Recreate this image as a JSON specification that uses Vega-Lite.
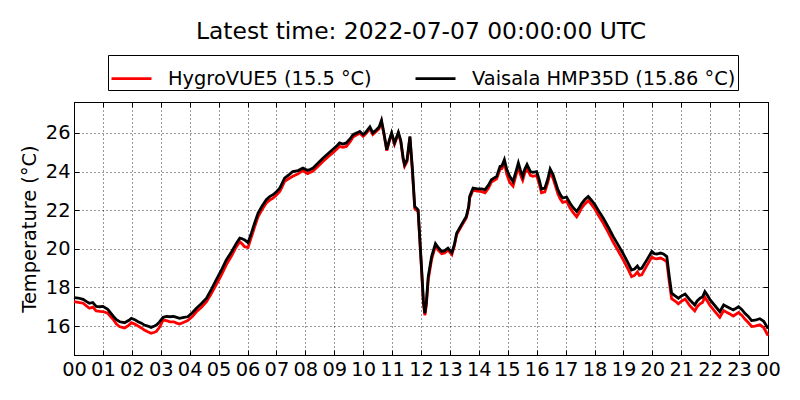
{
  "$schema": "https://vega.github.io/schema/vega-lite/v6.json",
  "autosize": "none",
  "width": 694,
  "height": 253,
  "padding": {"left": 74, "top": 102, "right": 32, "bottom": 45},
  "background": "white",
  "title": {
    "text": "Latest time: 2022-07-07 00:00:00 UTC",
    "anchor": "middle",
    "font": "DejaVu Sans",
    "fontSize": 23.4,
    "fontWeight": "normal",
    "color": "black",
    "offset": 10
  },
  "data": {
    "values": [
      {"t": "2022-07-06T00:00Z", "hygro": 17.26, "hmp": 17.47},
      {"t": "2022-07-06T00:09Z", "hygro": 17.22, "hmp": 17.45},
      {"t": "2022-07-06T00:19Z", "hygro": 17.18, "hmp": 17.38},
      {"t": "2022-07-06T00:27Z", "hygro": 17.02, "hmp": 17.25},
      {"t": "2022-07-06T00:32Z", "hygro": 16.92, "hmp": 17.18},
      {"t": "2022-07-06T00:39Z", "hygro": 16.98, "hmp": 17.22},
      {"t": "2022-07-06T00:46Z", "hygro": 16.78, "hmp": 17.02},
      {"t": "2022-07-06T00:54Z", "hygro": 16.76, "hmp": 17.00},
      {"t": "2022-07-06T01:00Z", "hygro": 16.75, "hmp": 17.02},
      {"t": "2022-07-06T01:10Z", "hygro": 16.66, "hmp": 16.86},
      {"t": "2022-07-06T01:21Z", "hygro": 16.35, "hmp": 16.52},
      {"t": "2022-07-06T01:28Z", "hygro": 16.10, "hmp": 16.33},
      {"t": "2022-07-06T01:35Z", "hygro": 15.96, "hmp": 16.22},
      {"t": "2022-07-06T01:45Z", "hygro": 15.90, "hmp": 16.17},
      {"t": "2022-07-06T01:54Z", "hygro": 16.05, "hmp": 16.30},
      {"t": "2022-07-06T01:59Z", "hygro": 16.17, "hmp": 16.40},
      {"t": "2022-07-06T02:06Z", "hygro": 16.10, "hmp": 16.33},
      {"t": "2022-07-06T02:13Z", "hygro": 16.00, "hmp": 16.22},
      {"t": "2022-07-06T02:20Z", "hygro": 15.90, "hmp": 16.15},
      {"t": "2022-07-06T02:26Z", "hygro": 15.79, "hmp": 16.05},
      {"t": "2022-07-06T02:33Z", "hygro": 15.70, "hmp": 16.00},
      {"t": "2022-07-06T02:40Z", "hygro": 15.62, "hmp": 15.93},
      {"t": "2022-07-06T02:47Z", "hygro": 15.68, "hmp": 16.00},
      {"t": "2022-07-06T02:51Z", "hygro": 15.72, "hmp": 16.05},
      {"t": "2022-07-06T02:57Z", "hygro": 15.92, "hmp": 16.20},
      {"t": "2022-07-06T03:05Z", "hygro": 16.31, "hmp": 16.45},
      {"t": "2022-07-06T03:12Z", "hygro": 16.28, "hmp": 16.50},
      {"t": "2022-07-06T03:19Z", "hygro": 16.22, "hmp": 16.48},
      {"t": "2022-07-06T03:27Z", "hygro": 16.22, "hmp": 16.50},
      {"t": "2022-07-06T03:33Z", "hygro": 16.15, "hmp": 16.45},
      {"t": "2022-07-06T03:39Z", "hygro": 16.10, "hmp": 16.40},
      {"t": "2022-07-06T03:48Z", "hygro": 16.20, "hmp": 16.45},
      {"t": "2022-07-06T03:56Z", "hygro": 16.28, "hmp": 16.48},
      {"t": "2022-07-06T04:06Z", "hygro": 16.50, "hmp": 16.70},
      {"t": "2022-07-06T04:14Z", "hygro": 16.74, "hmp": 16.92},
      {"t": "2022-07-06T04:24Z", "hygro": 16.96, "hmp": 17.15},
      {"t": "2022-07-06T04:35Z", "hygro": 17.26, "hmp": 17.44},
      {"t": "2022-07-06T04:45Z", "hygro": 17.68, "hmp": 17.90},
      {"t": "2022-07-06T04:55Z", "hygro": 18.13, "hmp": 18.39},
      {"t": "2022-07-06T05:06Z", "hygro": 18.65, "hmp": 18.90},
      {"t": "2022-07-06T05:16Z", "hygro": 19.17, "hmp": 19.42},
      {"t": "2022-07-06T05:27Z", "hygro": 19.64, "hmp": 19.85},
      {"t": "2022-07-06T05:37Z", "hygro": 20.11, "hmp": 20.29},
      {"t": "2022-07-06T05:44Z", "hygro": 20.37, "hmp": 20.55},
      {"t": "2022-07-06T05:49Z", "hygro": 20.25, "hmp": 20.52},
      {"t": "2022-07-06T05:54Z", "hygro": 20.11, "hmp": 20.46},
      {"t": "2022-07-06T06:01Z", "hygro": 20.06, "hmp": 20.32},
      {"t": "2022-07-06T06:08Z", "hygro": 20.60, "hmp": 20.81},
      {"t": "2022-07-06T06:15Z", "hygro": 21.15, "hmp": 21.35},
      {"t": "2022-07-06T06:22Z", "hygro": 21.67, "hmp": 21.85},
      {"t": "2022-07-06T06:30Z", "hygro": 22.02, "hmp": 22.20},
      {"t": "2022-07-06T06:39Z", "hygro": 22.37, "hmp": 22.54},
      {"t": "2022-07-06T06:46Z", "hygro": 22.52, "hmp": 22.70},
      {"t": "2022-07-06T06:53Z", "hygro": 22.62, "hmp": 22.80},
      {"t": "2022-07-06T07:00Z", "hygro": 22.78, "hmp": 22.95},
      {"t": "2022-07-06T07:07Z", "hygro": 22.97, "hmp": 23.14},
      {"t": "2022-07-06T07:12Z", "hygro": 23.22, "hmp": 23.40},
      {"t": "2022-07-06T07:17Z", "hygro": 23.49, "hmp": 23.66},
      {"t": "2022-07-06T07:27Z", "hygro": 23.65, "hmp": 23.85},
      {"t": "2022-07-06T07:34Z", "hygro": 23.75, "hmp": 24.00},
      {"t": "2022-07-06T07:45Z", "hygro": 23.88, "hmp": 24.05},
      {"t": "2022-07-06T07:55Z", "hygro": 24.06, "hmp": 24.18},
      {"t": "2022-07-06T08:01Z", "hygro": 23.95, "hmp": 24.10},
      {"t": "2022-07-06T08:05Z", "hygro": 23.89, "hmp": 24.06},
      {"t": "2022-07-06T08:11Z", "hygro": 23.97, "hmp": 24.12},
      {"t": "2022-07-06T08:16Z", "hygro": 24.02, "hmp": 24.18},
      {"t": "2022-07-06T08:27Z", "hygro": 24.28, "hmp": 24.45},
      {"t": "2022-07-06T08:37Z", "hygro": 24.53, "hmp": 24.70},
      {"t": "2022-07-06T08:48Z", "hygro": 24.78, "hmp": 24.95},
      {"t": "2022-07-06T08:58Z", "hygro": 24.99, "hmp": 25.17},
      {"t": "2022-07-06T09:06Z", "hygro": 25.18, "hmp": 25.35},
      {"t": "2022-07-06T09:11Z", "hygro": 25.30, "hmp": 25.48},
      {"t": "2022-07-06T09:18Z", "hygro": 25.25, "hmp": 25.42},
      {"t": "2022-07-06T09:25Z", "hygro": 25.30, "hmp": 25.48},
      {"t": "2022-07-06T09:33Z", "hygro": 25.55, "hmp": 25.70},
      {"t": "2022-07-06T09:39Z", "hygro": 25.79, "hmp": 25.91},
      {"t": "2022-07-06T09:47Z", "hygro": 25.90, "hmp": 26.00},
      {"t": "2022-07-06T09:53Z", "hygro": 25.98, "hmp": 26.08},
      {"t": "2022-07-06T10:00Z", "hygro": 25.82, "hmp": 25.91},
      {"t": "2022-07-06T10:06Z", "hygro": 25.96, "hmp": 26.05},
      {"t": "2022-07-06T10:14Z", "hygro": 26.22, "hmp": 26.31},
      {"t": "2022-07-06T10:20Z", "hygro": 25.92, "hmp": 26.00},
      {"t": "2022-07-06T10:27Z", "hygro": 26.07, "hmp": 26.15},
      {"t": "2022-07-06T10:33Z", "hygro": 26.22, "hmp": 26.30},
      {"t": "2022-07-06T10:38Z", "hygro": 26.58, "hmp": 26.65},
      {"t": "2022-07-06T10:43Z", "hygro": 25.94, "hmp": 26.00},
      {"t": "2022-07-06T10:49Z", "hygro": 25.08, "hmp": 25.13},
      {"t": "2022-07-06T10:54Z", "hygro": 25.55, "hmp": 25.60},
      {"t": "2022-07-06T10:59Z", "hygro": 25.94, "hmp": 26.00},
      {"t": "2022-07-06T11:05Z", "hygro": 25.42, "hmp": 25.48},
      {"t": "2022-07-06T11:13Z", "hygro": 25.97, "hmp": 26.03},
      {"t": "2022-07-06T11:18Z", "hygro": 25.55, "hmp": 25.60},
      {"t": "2022-07-06T11:23Z", "hygro": 24.62, "hmp": 24.70},
      {"t": "2022-07-06T11:26Z", "hygro": 24.28, "hmp": 24.36},
      {"t": "2022-07-06T11:31Z", "hygro": 24.52, "hmp": 24.60},
      {"t": "2022-07-06T11:37Z", "hygro": 25.76, "hmp": 25.82},
      {"t": "2022-07-06T11:42Z", "hygro": 24.05, "hmp": 24.20},
      {"t": "2022-07-06T11:47Z", "hygro": 22.08, "hmp": 22.19},
      {"t": "2022-07-06T11:54Z", "hygro": 21.92, "hmp": 22.02},
      {"t": "2022-07-06T12:01Z", "hygro": 18.95, "hmp": 19.08},
      {"t": "2022-07-06T12:05Z", "hygro": 17.15, "hmp": 17.30},
      {"t": "2022-07-06T12:08Z", "hygro": 16.55, "hmp": 16.66},
      {"t": "2022-07-06T12:11Z", "hygro": 17.05, "hmp": 17.20},
      {"t": "2022-07-06T12:15Z", "hygro": 18.40, "hmp": 18.56},
      {"t": "2022-07-06T12:22Z", "hygro": 19.45, "hmp": 19.60},
      {"t": "2022-07-06T12:30Z", "hygro": 20.15, "hmp": 20.26},
      {"t": "2022-07-06T12:36Z", "hygro": 19.92, "hmp": 20.05},
      {"t": "2022-07-06T12:43Z", "hygro": 19.74, "hmp": 19.86},
      {"t": "2022-07-06T12:49Z", "hygro": 19.78, "hmp": 19.90},
      {"t": "2022-07-06T12:56Z", "hygro": 19.93, "hmp": 20.03},
      {"t": "2022-07-06T13:04Z", "hygro": 19.70, "hmp": 19.80},
      {"t": "2022-07-06T13:09Z", "hygro": 20.12, "hmp": 20.20},
      {"t": "2022-07-06T13:14Z", "hygro": 20.74, "hmp": 20.81},
      {"t": "2022-07-06T13:24Z", "hygro": 21.18, "hmp": 21.25},
      {"t": "2022-07-06T13:34Z", "hygro": 21.60, "hmp": 21.67},
      {"t": "2022-07-06T13:39Z", "hygro": 22.12, "hmp": 22.20},
      {"t": "2022-07-06T13:41Z", "hygro": 22.62, "hmp": 22.71},
      {"t": "2022-07-06T13:48Z", "hygro": 23.04, "hmp": 23.14},
      {"t": "2022-07-06T13:57Z", "hygro": 22.98, "hmp": 23.10},
      {"t": "2022-07-06T14:06Z", "hygro": 22.96, "hmp": 23.10},
      {"t": "2022-07-06T14:13Z", "hygro": 22.90, "hmp": 23.06},
      {"t": "2022-07-06T14:20Z", "hygro": 23.15, "hmp": 23.30},
      {"t": "2022-07-06T14:26Z", "hygro": 23.45, "hmp": 23.58},
      {"t": "2022-07-06T14:37Z", "hygro": 23.62, "hmp": 23.75},
      {"t": "2022-07-06T14:44Z", "hygro": 24.12, "hmp": 24.27},
      {"t": "2022-07-06T14:48Z", "hygro": 24.15, "hmp": 24.30},
      {"t": "2022-07-06T14:53Z", "hygro": 24.45, "hmp": 24.62},
      {"t": "2022-07-06T14:58Z", "hygro": 23.85, "hmp": 24.10},
      {"t": "2022-07-06T15:04Z", "hygro": 23.45, "hmp": 23.75},
      {"t": "2022-07-06T15:11Z", "hygro": 23.25, "hmp": 23.49},
      {"t": "2022-07-06T15:17Z", "hygro": 23.80, "hmp": 24.00},
      {"t": "2022-07-06T15:22Z", "hygro": 24.25, "hmp": 24.45},
      {"t": "2022-07-06T15:26Z", "hygro": 23.85, "hmp": 24.10},
      {"t": "2022-07-06T15:31Z", "hygro": 23.55, "hmp": 23.75},
      {"t": "2022-07-06T15:35Z", "hygro": 23.90, "hmp": 24.10},
      {"t": "2022-07-06T15:40Z", "hygro": 24.15, "hmp": 24.36},
      {"t": "2022-07-06T15:47Z", "hygro": 23.80, "hmp": 24.00},
      {"t": "2022-07-06T15:52Z", "hygro": 23.75, "hmp": 23.96},
      {"t": "2022-07-06T16:00Z", "hygro": 23.80, "hmp": 24.00},
      {"t": "2022-07-06T16:05Z", "hygro": 23.38, "hmp": 23.60},
      {"t": "2022-07-06T16:10Z", "hygro": 22.90, "hmp": 23.09},
      {"t": "2022-07-06T16:17Z", "hygro": 22.95, "hmp": 23.14},
      {"t": "2022-07-06T16:23Z", "hygro": 23.42, "hmp": 23.60},
      {"t": "2022-07-06T16:28Z", "hygro": 23.95, "hmp": 24.13},
      {"t": "2022-07-06T16:34Z", "hygro": 23.65, "hmp": 23.84},
      {"t": "2022-07-06T16:39Z", "hygro": 23.25, "hmp": 23.45},
      {"t": "2022-07-06T16:44Z", "hygro": 22.85, "hmp": 23.06},
      {"t": "2022-07-06T16:49Z", "hygro": 22.58, "hmp": 22.80},
      {"t": "2022-07-06T16:54Z", "hygro": 22.40, "hmp": 22.63},
      {"t": "2022-07-06T17:02Z", "hygro": 22.45, "hmp": 22.68},
      {"t": "2022-07-06T17:09Z", "hygro": 22.12, "hmp": 22.37},
      {"t": "2022-07-06T17:15Z", "hygro": 21.90, "hmp": 22.15},
      {"t": "2022-07-06T17:23Z", "hygro": 21.65, "hmp": 21.93},
      {"t": "2022-07-06T17:29Z", "hygro": 21.90, "hmp": 22.15},
      {"t": "2022-07-06T17:33Z", "hygro": 22.10, "hmp": 22.33},
      {"t": "2022-07-06T17:40Z", "hygro": 22.32, "hmp": 22.55},
      {"t": "2022-07-06T17:47Z", "hygro": 22.50, "hmp": 22.71},
      {"t": "2022-07-06T17:54Z", "hygro": 22.28, "hmp": 22.50},
      {"t": "2022-07-06T18:01Z", "hygro": 22.05, "hmp": 22.28},
      {"t": "2022-07-06T18:09Z", "hygro": 21.70, "hmp": 21.95},
      {"t": "2022-07-06T18:18Z", "hygro": 21.33, "hmp": 21.59},
      {"t": "2022-07-06T18:29Z", "hygro": 20.82, "hmp": 21.10},
      {"t": "2022-07-06T18:39Z", "hygro": 20.33, "hmp": 20.63},
      {"t": "2022-07-06T18:49Z", "hygro": 19.90, "hmp": 20.20},
      {"t": "2022-07-06T18:59Z", "hygro": 19.45, "hmp": 19.77},
      {"t": "2022-07-06T19:09Z", "hygro": 18.98, "hmp": 19.30},
      {"t": "2022-07-06T19:17Z", "hygro": 18.56, "hmp": 18.90},
      {"t": "2022-07-06T19:23Z", "hygro": 18.62, "hmp": 18.95},
      {"t": "2022-07-06T19:29Z", "hygro": 18.80, "hmp": 19.11},
      {"t": "2022-07-06T19:33Z", "hygro": 18.62, "hmp": 18.95},
      {"t": "2022-07-06T19:38Z", "hygro": 18.65, "hmp": 18.99},
      {"t": "2022-07-06T19:48Z", "hygro": 19.10, "hmp": 19.40},
      {"t": "2022-07-06T19:59Z", "hygro": 19.58, "hmp": 19.86},
      {"t": "2022-07-06T20:04Z", "hygro": 19.50, "hmp": 19.75},
      {"t": "2022-07-06T20:09Z", "hygro": 19.48, "hmp": 19.73},
      {"t": "2022-07-06T20:17Z", "hygro": 19.52, "hmp": 19.78},
      {"t": "2022-07-06T20:23Z", "hygro": 19.45, "hmp": 19.73},
      {"t": "2022-07-06T20:30Z", "hygro": 19.32, "hmp": 19.60},
      {"t": "2022-07-06T20:35Z", "hygro": 18.30, "hmp": 18.60},
      {"t": "2022-07-06T20:40Z", "hygro": 17.42, "hmp": 17.70},
      {"t": "2022-07-06T20:48Z", "hygro": 17.28, "hmp": 17.55},
      {"t": "2022-07-06T20:54Z", "hygro": 17.15, "hmp": 17.44},
      {"t": "2022-07-06T21:00Z", "hygro": 17.28, "hmp": 17.55},
      {"t": "2022-07-06T21:08Z", "hygro": 17.40, "hmp": 17.66},
      {"t": "2022-07-06T21:18Z", "hygro": 17.05, "hmp": 17.35},
      {"t": "2022-07-06T21:28Z", "hygro": 16.78, "hmp": 17.09},
      {"t": "2022-07-06T21:33Z", "hygro": 17.00, "hmp": 17.30},
      {"t": "2022-07-06T21:39Z", "hygro": 17.15, "hmp": 17.44},
      {"t": "2022-07-06T21:44Z", "hygro": 17.22, "hmp": 17.50},
      {"t": "2022-07-06T21:49Z", "hygro": 17.50, "hmp": 17.78},
      {"t": "2022-07-06T21:54Z", "hygro": 17.30, "hmp": 17.60},
      {"t": "2022-07-06T22:00Z", "hygro": 17.05, "hmp": 17.35},
      {"t": "2022-07-06T22:10Z", "hygro": 16.75, "hmp": 17.05},
      {"t": "2022-07-06T22:20Z", "hygro": 16.45, "hmp": 16.74},
      {"t": "2022-07-06T22:28Z", "hygro": 16.80, "hmp": 17.09},
      {"t": "2022-07-06T22:35Z", "hygro": 16.70, "hmp": 17.00},
      {"t": "2022-07-06T22:41Z", "hygro": 16.62, "hmp": 16.92},
      {"t": "2022-07-06T22:48Z", "hygro": 16.52, "hmp": 16.83},
      {"t": "2022-07-06T22:59Z", "hygro": 16.70, "hmp": 17.00},
      {"t": "2022-07-06T23:06Z", "hygro": 16.55, "hmp": 16.85},
      {"t": "2022-07-06T23:12Z", "hygro": 16.36, "hmp": 16.66},
      {"t": "2022-07-06T23:19Z", "hygro": 16.18, "hmp": 16.50},
      {"t": "2022-07-06T23:26Z", "hygro": 15.98, "hmp": 16.28},
      {"t": "2022-07-06T23:33Z", "hygro": 16.00, "hmp": 16.30},
      {"t": "2022-07-06T23:43Z", "hygro": 16.06, "hmp": 16.38},
      {"t": "2022-07-06T23:51Z", "hygro": 15.92, "hmp": 16.25},
      {"t": "2022-07-06T23:58Z", "hygro": 15.60, "hmp": 15.96},
      {"t": "2022-07-07T00:00Z", "hygro": 15.50, "hmp": 15.86}
    ]
  },
  "transform": [
    {"fold": ["hygro", "hmp"], "as": ["sensor", "temp"]}
  ],
  "encoding": {
    "x": {
      "field": "t",
      "type": "temporal",
      "scale": {"type": "utc", "nice": false}
    },
    "y": {
      "field": "temp",
      "type": "quantitative",
      "scale": {"domain": [14.5, 27.6], "nice": false, "zero": false}
    },
    "color": {
      "field": "sensor",
      "type": "nominal",
      "scale": {"domain": ["hygro", "hmp"], "range": ["#ff0000", "#000000"]},
      "legend": {
        "orient": "none",
        "legendX": 34,
        "legendY": -47,
        "direction": "horizontal",
        "title": null,
        "symbolType": "stroke",
        "symbolSize": 1600,
        "symbolStrokeWidth": 2.8,
        "labelFont": "DejaVu Sans",
        "labelFontSize": 19.4,
        "labelColor": "black",
        "labelLimit": 400,
        "labelOffset": 15,
        "columnPadding": 37,
        "strokeColor": "black",
        "padding": 2,
        "fillColor": "white",
        "labelExpr": "datum.label == 'hygro' ? 'HygroVUE5 (15.5 °C)' : 'Vaisala HMP35D (15.86 °C)'"
      }
    }
  },
  "layer": [
    {
      "transform": [{"filter": "datum.sensor == 'hygro'"}],
      "mark": {"type": "line", "strokeWidth": 2.8},
      "encoding": {
        "x": {
          "field": "t",
          "type": "temporal",
          "axis": {
            "orient": "bottom",
            "title": null,
            "format": "%H",
            "tickCount": 24,
            "labelOverlap": false,
            "labelFlush": false,
            "labelBound": false,
            "grid": true,
            "gridColor": "black",
            "gridDash": [1, 3],
            "gridWidth": 0.8,
            "gridOpacity": 1,
            "tickSize": -5,
            "tickColor": "black",
            "domainColor": "black",
            "labelFont": "DejaVu Sans",
            "labelFontSize": 19.4,
            "labelColor": "black",
            "labelPadding": 10
          }
        },
        "y": {
          "field": "temp",
          "type": "quantitative",
          "axis": {
            "orient": "left",
            "title": "Temperature (°C)",
            "values": [16, 18, 20, 22, 24, 26],
            "grid": true,
            "gridColor": "black",
            "gridDash": [1, 3],
            "gridWidth": 0.8,
            "gridOpacity": 1,
            "tickSize": -5,
            "tickColor": "black",
            "domainColor": "black",
            "labelFont": "DejaVu Sans",
            "labelFontSize": 19.4,
            "labelColor": "black",
            "labelPadding": 9,
            "titleFont": "DejaVu Sans",
            "titleFontSize": 19.4,
            "titleFontWeight": "normal",
            "titleColor": "black",
            "titlePadding": 6
          }
        }
      }
    },
    {
      "transform": [{"filter": "datum.sensor == 'hmp'"}],
      "mark": {"type": "line", "strokeWidth": 2.8},
      "encoding": {
        "x": {
          "field": "t",
          "type": "temporal",
          "axis": {
            "orient": "top",
            "title": null,
            "labels": false,
            "grid": false,
            "tickCount": 24,
            "tickSize": -5,
            "tickColor": "black",
            "domainColor": "black"
          }
        },
        "y": {
          "field": "temp",
          "type": "quantitative",
          "axis": {
            "orient": "right",
            "title": null,
            "labels": false,
            "grid": false,
            "values": [16, 18, 20, 22, 24, 26],
            "tickSize": -5,
            "tickColor": "black",
            "domainColor": "black"
          }
        }
      }
    }
  ],
  "resolve": {"axis": {"x": "independent", "y": "independent"}},
  "config": {
    "view": {"stroke": "black", "strokeWidth": 1}
  }
}
